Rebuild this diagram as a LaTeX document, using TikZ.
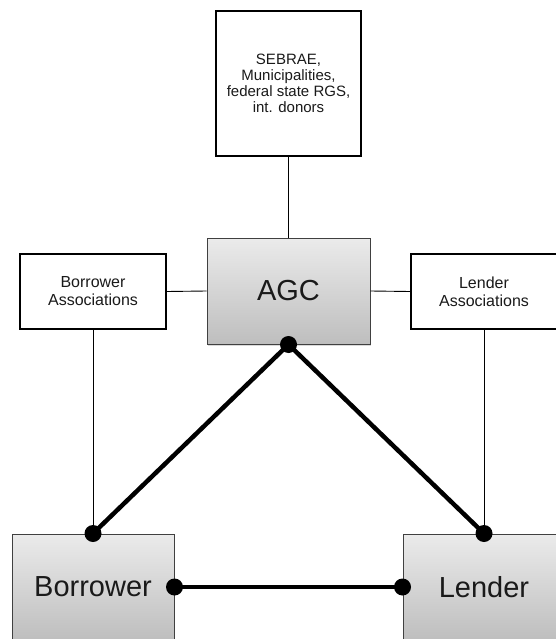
\documentclass[tikz,border=0pt]{standalone}
\usepackage{fontspec}
\setmainfont{Liberation Sans}
\usetikzlibrary{shadows}
\definecolor{txt}{HTML}{1A1A1A}
\definecolor{gtop}{HTML}{EBEBEB}
\definecolor{gbot}{HTML}{BEBEBE}
\definecolor{gborder}{HTML}{404040}
\begin{document}
\begin{tikzpicture}[x=1pt,y=-1pt,
  whitebox/.style={draw=black, line width=2pt, fill=white, align=center, text=txt, inner sep=0pt},
  graybox/.style={draw=gborder, line width=1pt, top color=gtop, bottom color=gbot, text=txt, inner sep=0pt,
     font=\fontsize{29}{32}\selectfont,
     drop shadow={shadow xshift=1pt,shadow yshift=-1.5pt,opacity=0.3}},
  fineline/.style={line width=0.9pt, draw=black},
  boldlink/.style={line width=4.5pt, draw=black},
  dot/.style={circle, fill=black, inner sep=0pt, minimum size=17pt}]
\useasboundingbox (0,0) rectangle (556,639);
\clip (0,0) rectangle (556,639);
% nodes
\node[whitebox, minimum width=145pt, minimum height=145pt, font=\fontsize{15}{16}\selectfont] (top) at (288.5,83.5)
  {SEBRAE,\\Municipalities,\\federal state RGS,\\int. donors};
\node[graybox, minimum width=163pt, minimum height=106pt] (agc) at (288.5,291) {AGC};
\node[whitebox, minimum width=146pt, minimum height=75pt, font=\fontsize{16}{18}\selectfont] (ba) at (93,291.5) {Borrower\\Associations};
\node[whitebox, minimum width=146pt, minimum height=75pt, font=\fontsize{16}{18}\selectfont] (la) at (484,291.5) {Lender\\Associations};
\node[graybox, minimum width=162pt, minimum height=106pt] (bor) at (93,587) {Borrower};
\node[graybox, minimum width=162pt, minimum height=106pt] (len) at (484,587) {Lender};
% thin connectors
\draw[fineline] (top.south) -- (agc.north);
\draw[fineline] (ba.east) -- (agc.west);
\draw[fineline] (agc.east) -- (la.west);
\draw[fineline] (ba.south) -- (bor.north);
\draw[fineline] (la.south) -- (len.north);
% bold links
\draw[boldlink] (agc.south) -- (bor.north);
\draw[boldlink] (agc.south) -- (len.north);
\draw[boldlink] (bor.east) -- (len.west);
% dots
\node[dot] (d1) at (agc.south) {};
\node[dot] (d2) at (bor.north) {};
\node[dot] (d3) at (len.north) {};
\node[dot] (d4) at (bor.east) {};
\node[dot] (d5) at (len.west) {};
\end{tikzpicture}
\end{document}
